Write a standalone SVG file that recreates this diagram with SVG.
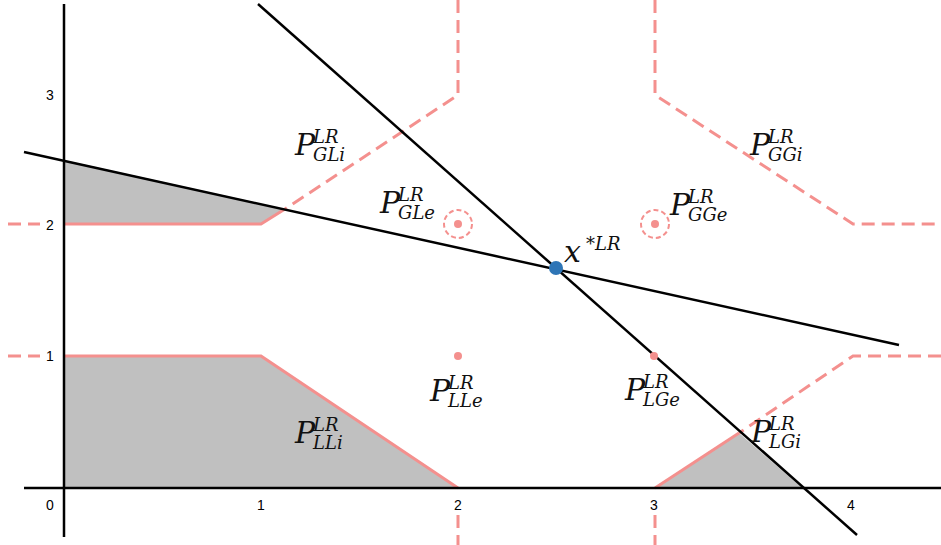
<svg xmlns="http://www.w3.org/2000/svg" width="941" height="545" viewBox="0 0 941 545">
<style>
.fill{fill:#c0c0c0;stroke:none}
.ps{fill:none;stroke:#f4908e;stroke-width:3}
.pd{fill:none;stroke:#f4908e;stroke-width:3;stroke-dasharray:13 7}
.ax{fill:none;stroke:#000;stroke-width:2.5}
.ln{fill:none;stroke:#000;stroke-width:2.5}
.tick{font-family:"Liberation Sans",Arial,sans-serif;font-size:14px;fill:#000;text-anchor:middle}
.m{font-family:"DejaVu Serif","Liberation Serif",serif;font-style:italic;font-size:30px;fill:#111}
.s{font-size:18px}
.pt{fill:#f4908e}
.ring{fill:none;stroke:#f4908e;stroke-width:2;stroke-dasharray:5 3}
</style>
<rect width="941" height="545" fill="#fff"/>
<g id="regions">
<polygon class="fill" points="64,160 285,209 261,224 64,224"/>
<polygon class="fill" points="64,356 261,356 458,488 64,488"/>
<polygon class="fill" points="655,488 739,433 802,488"/>
</g>
<g id="boundaries">
<path class="ps" d="M64,224 H261 L285,209"/>
<path class="ps" d="M64,356 H261 L458,488"/>
<path class="ps" d="M655,488 L739,433"/>
<path class="pd" d="M458,0 V95 L285,209"/>
<path class="pd" d="M655,0 V95 L853,224 H941"/>
<path class="pd" d="M941,356 H853 L739,433"/>
<path class="pd" d="M8,224 H40"/>
<path class="pd" d="M8,356 H40"/>
<path class="pd" d="M458,515 V545"/>
<path class="pd" d="M655,515 V545"/>
</g>
<g id="axes">
<path class="ax" d="M64,4 V537"/>
<path class="ax" d="M24,488 H941"/>
<text class="tick" x="50" y="510">0</text>
<text class="tick" x="261" y="510">1</text>
<text class="tick" x="458" y="510">2</text>
<text class="tick" x="654" y="510">3</text>
<text class="tick" x="851" y="510">4</text>
<text class="tick" x="50" y="100">3</text>
<text class="tick" x="50" y="230">2</text>
<text class="tick" x="50" y="361">1</text>
</g>
<g id="connectors">
<line class="ln" x1="24" y1="152" x2="899" y2="345"/>
<line class="ln" x1="258" y1="4" x2="857" y2="535"/>
</g>
<g id="points">
<circle class="ring" cx="458" cy="224" r="14"/>
<circle class="pt" cx="458" cy="224" r="4"/>
<circle class="ring" cx="655" cy="224" r="14"/>
<circle class="pt" cx="655" cy="224" r="4"/>
<circle class="pt" cx="458" cy="356" r="4"/>
<circle class="pt" cx="654" cy="356" r="4"/>
<circle id="xstar" cx="556" cy="268" r="7" fill="#2e75b6"/>
</g>
<g id="labels">
<g id="P_GLi"><text class="m" x="295" y="155">P<tspan class="s" x="313" dy="-12">LR</tspan><tspan class="s" x="313" dy="18">GLi</tspan></text></g>
<g id="P_GLe"><text class="m" x="380" y="213">P<tspan class="s" x="398" dy="-12">LR</tspan><tspan class="s" x="398" dy="18">GLe</tspan></text></g>
<g id="P_GGi"><text class="m" x="750" y="155">P<tspan class="s" x="768" dy="-12">LR</tspan><tspan class="s" x="768" dy="18">GGi</tspan></text></g>
<g id="P_GGe"><text class="m" x="670" y="215">P<tspan class="s" x="688" dy="-12">LR</tspan><tspan class="s" x="688" dy="18">GGe</tspan></text></g>
<g id="P_LLe"><text class="m" x="430" y="401">P<tspan class="s" x="448" dy="-12">LR</tspan><tspan class="s" x="448" dy="18">LLe</tspan></text></g>
<g id="P_LGe"><text class="m" x="625" y="400">P<tspan class="s" x="643" dy="-12">LR</tspan><tspan class="s" x="643" dy="18">LGe</tspan></text></g>
<g id="P_LGi"><text class="m" x="751" y="442">P<tspan class="s" x="769" dy="-12">LR</tspan><tspan class="s" x="769" dy="18">LGi</tspan></text></g>
<g id="P_LLi"><text class="m" x="295" y="443">P<tspan class="s" x="313" dy="-12">LR</tspan><tspan class="s" x="313" dy="18">LLi</tspan></text></g>
<g id="x_star"><text class="m" x="564" y="262">x<tspan class="s" x="586" dy="-12">*LR</tspan></text></g>
</g>
</svg>
